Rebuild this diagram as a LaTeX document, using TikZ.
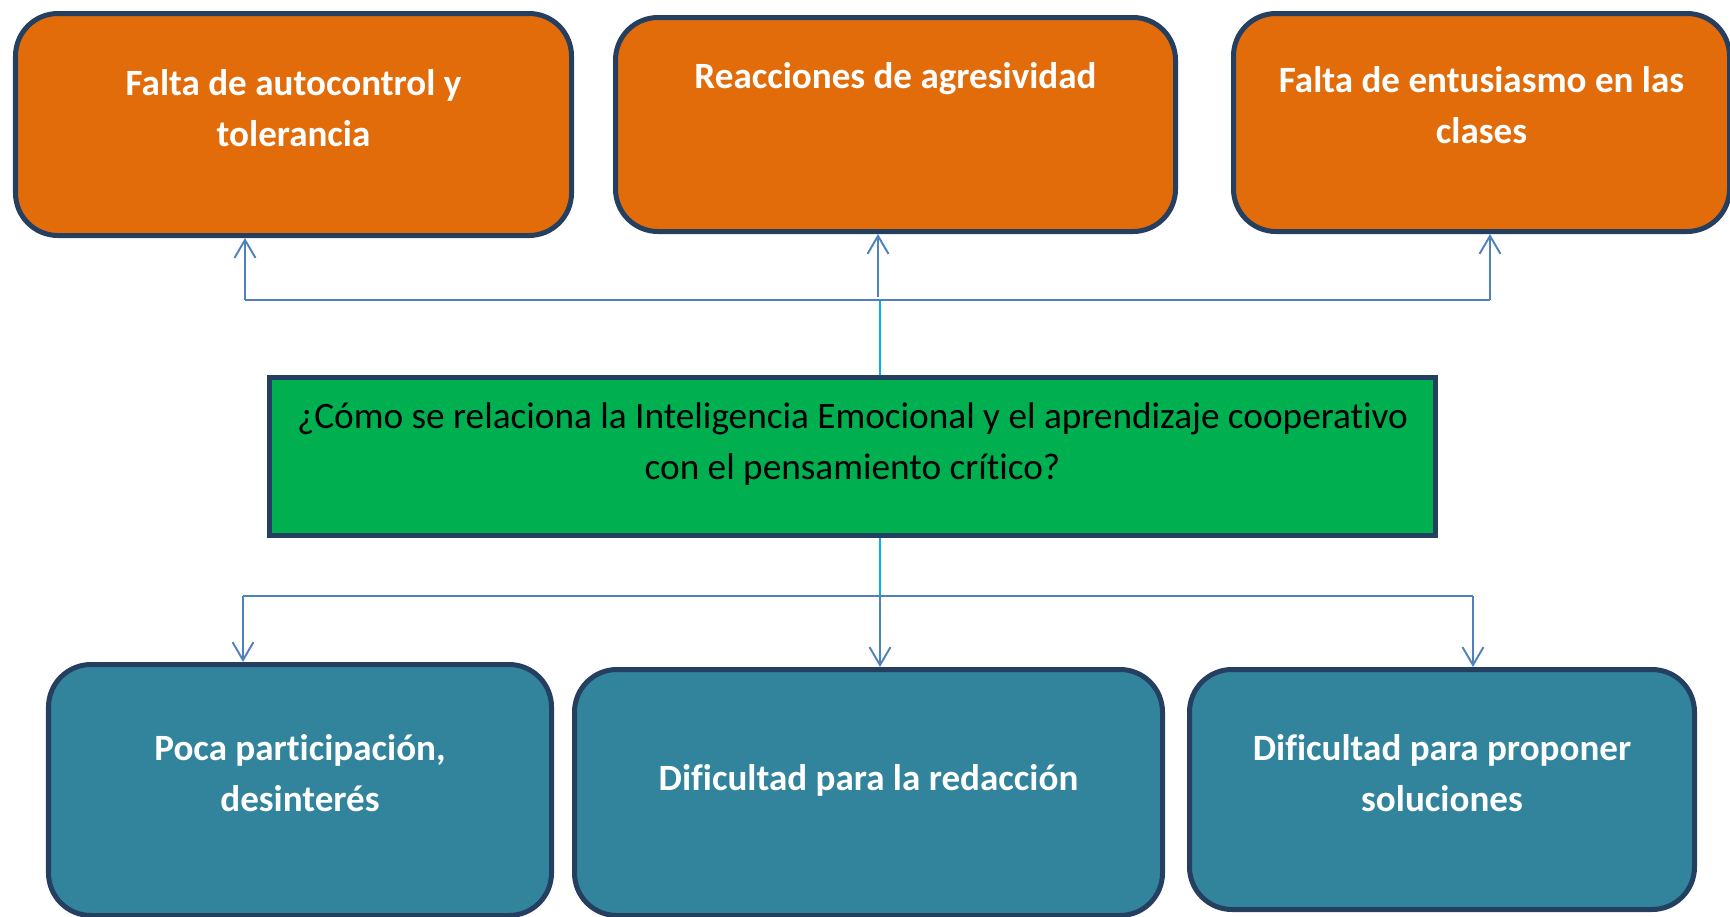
\documentclass[tikz,border=0pt]{standalone}
\usepackage{fontspec}
\setmainfont[Ligatures=CommonOff]{Carlito}
\usetikzlibrary{arrows.meta,
                positioning
            }

\definecolor{efecto}{HTML}{E36C0A}
\definecolor{causa}{HTML}{31849B}
\definecolor{problema}{HTML}{00B050}
\definecolor{borde}{HTML}{243F60}
\definecolor{flecha}{HTML}{4F81BD}
\definecolor{enlace}{HTML}{00B0F0}

\tikzset{
    caja/.style={draw=borde, line width=2.85pt, rounded corners=0.85cm, inner sep=0pt},
    efectobox/.style={caja, fill=efecto},
    causabox/.style={caja, fill=causa},
    problemabox/.style={draw=borde, line width=2.85pt, fill=problema, inner sep=0pt},
    rotulo/.style={text=white, font=\fontsize{21.1}{29}\selectfont\bfseries, align=center},
    pregunta/.style={text=black, font=\fontsize{21.2}{29}\selectfont, align=center},
    flechita/.style={draw=flecha, line width=1.1pt, -{Straight Barb[length=0.36cm, width=0.42cm]}},
    bus/.style={draw=flecha, line width=1.1pt},
    enlacelinea/.style={draw=enlace, line width=0.9pt}
}

\begin{document}
\begin{tikzpicture}
            \useasboundingbox (0, 0) rectangle (34.6, -18.32);
            \node[efectobox, minimum width=11.12cm, minimum height=4.44cm] (autocontrol) at (5.87, -2.49) {};
            \node[efectobox, minimum width=11.2cm, minimum height=4.28cm] (agresividad) at (17.91, -2.49) {};
            \node[efectobox, minimum width=9.92cm, minimum height=4.36cm] (entusiasmo) at (29.63, -2.45) {};
            \node[problemabox, minimum width=23.32cm, minimum height=3.16cm] (pregunta) at (17.05, -9.13) {};
            \node[causabox, minimum width=10.06cm, minimum height=5.02cm] (participacion) at (6.0, -15.8) {};
            \node[causabox, minimum width=11.76cm, minimum height=4.92cm] (redaccion) at (17.37, -15.85) {};
            \node[causabox, minimum width=10.1cm, minimum height=4.8cm] (soluciones) at (28.84, -15.79) {};
            \node[rotulo] (autocontrolTxt) at (5.87, -2.17) {Falta de autocontrol y\\tolerancia};
            \node[rotulo] (agresividadTxt) at (17.91, -1.57) {Reacciones de agresividad};
            \node[rotulo] (entusiasmoTxt) at (29.63, -2.11) {Falta de entusiasmo en las\\clases};
            \node[pregunta] (preguntaTxt) at (17.05, -8.89) {¿Cómo se relaciona la Inteligencia Emocional y el aprendizaje cooperativo\\con el pensamiento crítico?};
            \node[rotulo] (participacionTxt) at (6.0, -15.47) {Poca participación,\\desinterés};
            \node[rotulo] (redaccionTxt) at (17.37, -15.61) {Dificultad para la redacción};
            \node[rotulo] (solucionesTxt) at (28.84, -15.47) {Dificultad para proponer\\soluciones};
            \coordinate (arriba) at (17.6, -6.0);
            \coordinate (arribaIzq) at (4.9, -6.0);
            \coordinate (arribaDer) at (29.8, -6.0);
            \coordinate (arribaMed) at (17.56, -5.93);
            \coordinate (abajo) at (17.6, -11.92);
            \coordinate (abajoIzq) at (4.86, -11.92);
            \coordinate (abajoDer) at (29.46, -11.92);
            \draw[enlacelinea] (pregunta.north -| arriba) -- (arriba);
            \draw[bus] (arribaIzq) -- (arribaDer);
            \draw[flechita] (arribaIzq) -- (autocontrol.south -| arribaIzq);
            \draw[flechita] (arribaMed) -- (agresividad.south -| arribaMed);
            \draw[flechita] (arribaDer) -- (entusiasmo.south -| arribaDer);
            \draw[enlacelinea] (pregunta.south -| abajo) -- (abajo);
            \draw[bus] (abajoIzq) -- (abajoDer);
            \draw[flechita] (abajoIzq) -- (participacion.north -| abajoIzq);
            \draw[flechita] (abajo) -- (redaccion.north -| abajo);
            \draw[flechita] (abajoDer) -- (soluciones.north -| abajoDer);
        \end{tikzpicture}
\end{document}
